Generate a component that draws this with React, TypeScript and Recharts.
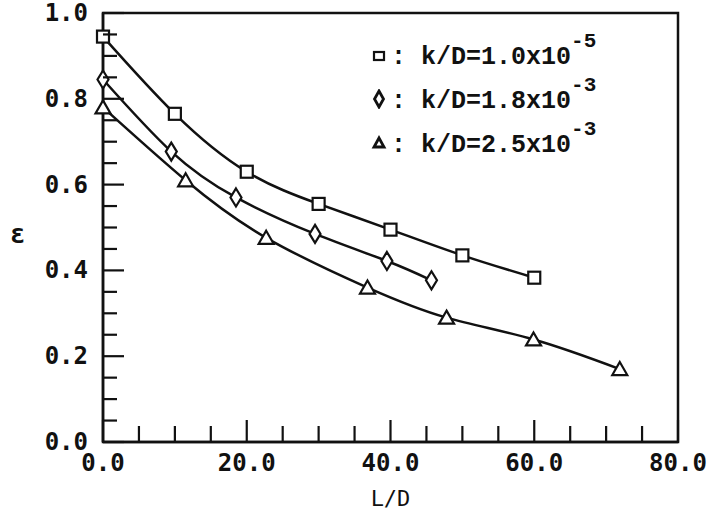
import { LineChart, Line, XAxis, YAxis, ReferenceArea } from 'recharts';

// L/D positions and epsilon values
const squareX = [0, 10, 20, 30, 40, 50, 60];
const squareY = [0.945, 0.765, 0.63, 0.555, 0.495, 0.435, 0.383];
const diamondX = [0, 9.5, 18.5, 29.5, 39.5, 45.7];
const diamondY = [0.845, 0.677, 0.57, 0.485, 0.422, 0.377];
const triangleX = [0, 11.5, 22.7, 36.8, 47.8, 59.9, 71.9];
const triangleY = [0.78, 0.61, 0.476, 0.36, 0.29, 0.239, 0.17];

const xTicks = [0, 5, 10, 15, 20, 25, 30, 35, 40, 45, 50, 55, 60, 65, 70, 75, 80];
const yTicks = [
  0, 0.05, 0.1, 0.15, 0.2, 0.25, 0.3, 0.35, 0.4, 0.45, 0.5,
  0.55, 0.6, 0.65, 0.7, 0.75, 0.8, 0.85, 0.9, 0.95, 1.0,
];
const legendNames = ['k/D=1.0x10', 'k/D=1.8x10', 'k/D=2.5x10'];
const legendExps = ['-5', '-3', '-3'];

const toPoints = (xs: number[], ys: number[]) => xs.map((x, i) => ({ x, y: ys[i] }));
const squareData = toPoints(squareX, squareY);
const diamondData = toPoints(diamondX, diamondY);
const triangleData = toPoints(triangleX, triangleY);

const plotFont = '"DejaVu Sans Mono", monospace';
const ink = '#111';

const Square = ({ cx, cy }: any) => (
  <rect x={cx - 6} y={cy - 6} width={12} height={12} fill="#fff" stroke={ink} strokeWidth={2.2} />
);
const Diamond = ({ cx, cy }: any) => (
  <path
    d={`M${cx},${cy - 9} L${cx + 5.5},${cy} L${cx},${cy + 9} L${cx - 5.5},${cy} Z`}
    fill="#fff"
    stroke={ink}
    strokeWidth={2.2}
  />
);
const Triangle = ({ cx, cy }: any) => (
  <path
    d={`M${cx},${cy - 7} L${cx + 7.5},${cy + 6} L${cx - 7.5},${cy + 6} Z`}
    fill="#fff"
    stroke={ink}
    strokeWidth={2.2}
  />
);

const XTick = ({ x, y, payload }: any) => {
  const major = payload.value % 20 === 0;
  return (
    <g>
      <line x1={x} y1={y} x2={x} y2={y - (major ? 22 : 16)} stroke={ink} strokeWidth={2.2} />
      {major && (
        <text
          x={x}
          y={y + 29}
          textAnchor="middle"
          fontFamily={plotFont}
          fontWeight="bold"
          fontSize={24}
          fill={ink}
        >
          {payload.value.toFixed(1)}
        </text>
      )}
    </g>
  );
};

const YTick = ({ x, y, payload }: any) => {
  const v = payload.value;
  const major = Math.abs(v * 5 - Math.round(v * 5)) < 1e-6;
  return (
    <g>
      <line x1={x} y1={y} x2={x + (major ? 21 : 14)} y2={y} stroke={ink} strokeWidth={2.2} />
      {major && (
        <text
          x={x - 15}
          y={y + 8}
          textAnchor="end"
          fontFamily={plotFont}
          fontWeight="bold"
          fontSize={24}
          fill={ink}
        >
          {v.toFixed(1)}
        </text>
      )}
    </g>
  );
};

const legendIcons = [
  <rect key="s" x={4} y={7} width={10} height={8} fill="none" stroke={ink} strokeWidth={2.2} />,
  <path key="d" d="M9,2 L13.5,10 L9,18 L4.5,10 Z" fill="none" stroke={ink} strokeWidth={2.8} />,
  <path key="t" d="M9,5 L14,14 L4,14 Z" fill="none" stroke={ink} strokeWidth={2.8} />,
];

const LegendBox = () => (
  <div
    style={{
      position: 'absolute',
      left: 370,
      top: 33,
      fontFamily: '"Liberation Mono", "Courier New", monospace',
      fontSize: 25,
      fontWeight: 'bold',
      color: ink,
    }}
  >
    {legendNames.map((name, i) => (
      <div key={name} style={{ display: 'flex', alignItems: 'center', height: 44 }}>
        <svg width={18} height={20} style={{ marginRight: 3 }}>
          {legendIcons[i]}
        </svg>
        <span style={{ whiteSpace: 'pre' }}>
          {': ' + name}
          <sup style={{ fontSize: 21, position: 'relative', top: -8 }}>{legendExps[i]}</sup>
        </span>
      </div>
    ))}
  </div>
);

const App = () => {
  return (
    <div style={{ position: 'absolute', left: 0, top: 0, width: 708, height: 514, background: '#fff' }}>
      <LineChart width={708} height={514} margin={{ top: 13, right: 30, left: 0, bottom: 0 }}>
        <XAxis
          type="number"
          dataKey="x"
          domain={[0, 80]}
          ticks={xTicks}
          interval={0}
          tickSize={0}
          tickMargin={0}
          tickLine={false}
          tick={<XTick />}
          height={72}
          axisLine={{ stroke: ink, strokeWidth: 2.5 }}
          label={{
            value: 'L/D',
            position: 'insideBottom',
            offset: 8,
            fontFamily: plotFont,
            fontSize: 22,
            fill: ink,
          }}
        />
        <YAxis
          type="number"
          dataKey="y"
          domain={[0, 1]}
          ticks={yTicks}
          interval={0}
          tickSize={0}
          tickMargin={0}
          tickLine={false}
          tick={<YTick />}
          width={103}
          axisLine={{ stroke: ink, strokeWidth: 2.5 }}
          label={{
            value: 'ε',
            position: 'insideLeft',
            offset: 10,
            angle: 0,
            dy: 6,
            fontFamily: plotFont,
            fontWeight: 'bold',
            fontSize: 26,
            fill: ink,
          }}
        />
        <ReferenceArea x1={0} x2={80} y1={0} y2={1} fill="none" stroke={ink} strokeWidth={2.5} />
        <Line
          data={squareData}
          dataKey="y"
          type="natural"
          stroke={ink}
          strokeWidth={2.5}
          dot={(p: any) => <Square key={`s${p.index}`} cx={p.cx} cy={p.cy} />}
          isAnimationActive={false}
        />
        <Line
          data={diamondData}
          dataKey="y"
          type="natural"
          stroke={ink}
          strokeWidth={2.5}
          dot={(p: any) => <Diamond key={`d${p.index}`} cx={p.cx} cy={p.cy} />}
          isAnimationActive={false}
        />
        <Line
          data={triangleData}
          dataKey="y"
          type="natural"
          stroke={ink}
          strokeWidth={2.5}
          dot={(p: any) => <Triangle key={`t${p.index}`} cx={p.cx} cy={p.cy} />}
          isAnimationActive={false}
        />
      </LineChart>
      <LegendBox />
    </div>
  );
};

export default App;
